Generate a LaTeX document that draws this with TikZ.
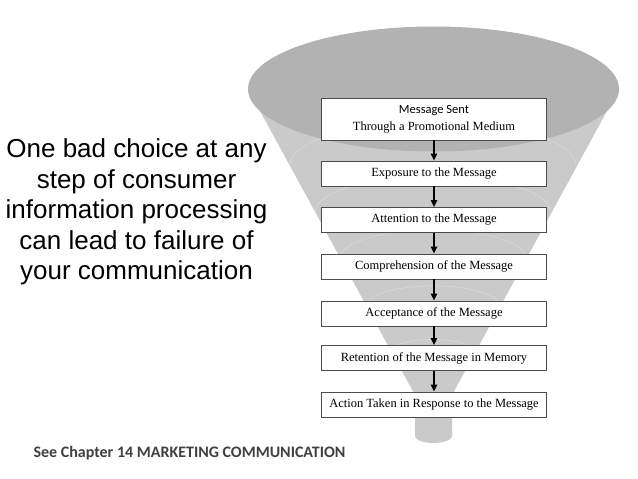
\documentclass[tikz,border=0pt]{standalone}
\usepackage{fontspec}
\setmainfont{Liberation Serif}
\newfontfamily\armsans{Liberation Sans}
\newfontfamily\calsans{Carlito}
\usepackage{xcolor}
\usetikzlibrary{arrows.meta, positioning}
\definecolor{funnelbody}{RGB}{202,202,202}
\definecolor{funneltop}{RGB}{178,178,178}
\definecolor{notegray}{RGB}{64,64,64}

\begin{document}
\begin{tikzpicture}[x=1pt, y=-1pt,
    stage/.style={rectangle, draw=black!70, fill=white, line width=0.6pt,
                  minimum width=225pt, minimum height=25pt, inner sep=1pt,
                  align=center, font=\fontsize{12.5}{16}\selectfont},
    flow/.style={-{Triangle[length=7pt,width=6pt]}, line width=1.8pt},
]
\useasboundingbox (0,0) rectangle (638,479);
% funnel
\fill[funnelbody] (248,89) -- (415,395) -- (415,436)
    arc[start angle=180, end angle=360, x radius=18.5pt, y radius=7pt]
    -- (452,395) -- (619,89) -- cycle;
\begin{scope}
  \clip (248,89) -- (415,395) -- (415,445) -- (452,445) -- (452,395) -- (619,89) -- cycle;
  \foreach \yy/\rr in {165/143, 212/118, 258/93, 306/67, 352/42}
    \draw[white, opacity=0.3, line width=0.6pt]
      (433-\rr,\yy) arc[start angle=180, end angle=360, x radius=\rr, y radius=0.3*\rr];
\end{scope}
\fill[funneltop] (433.5,89) ellipse[x radius=185.5pt, y radius=62.5pt];

% stages
\node[stage, minimum height=42pt] (s1) at (434,119)
  {{\calsans Message Sent}\\[1pt]Through a Promotional Medium};
\node[stage] (s2) at (434,173.5) {Exposure to the Message};
\node[stage] (s3) at (434,220) {Attention to the Message};
\node[stage] (s4) at (434,266.5) {Comprehension of the Message};
\node[stage] (s5) at (434,313.5) {Acceptance of the Message};
\node[stage] (s6) at (434,358) {Retention of the Message in Memory};
\node[stage] (s7) at (434,404.5) {Action Taken in Response to the Message};

\foreach \a/\b in {s1/s2, s2/s3, s3/s4, s4/s5, s5/s6, s6/s7}
  \draw[flow] (\a.south) -- (\b.north);

% side texts
\node[align=center, font=\armsans\fontsize{26}{30.5}\selectfont] (claim) at (136.5,212)
  {One bad choice at any\\step of consumer\\information processing\\can lead to failure of\\your communication};
\node[anchor=west, text=notegray, font=\calsans\bfseries\fontsize{16}{19}\selectfont] (see) at (30,453)
  {See Chapter 14 MARKETING COMMUNICATION};
\end{tikzpicture}
\end{document}
